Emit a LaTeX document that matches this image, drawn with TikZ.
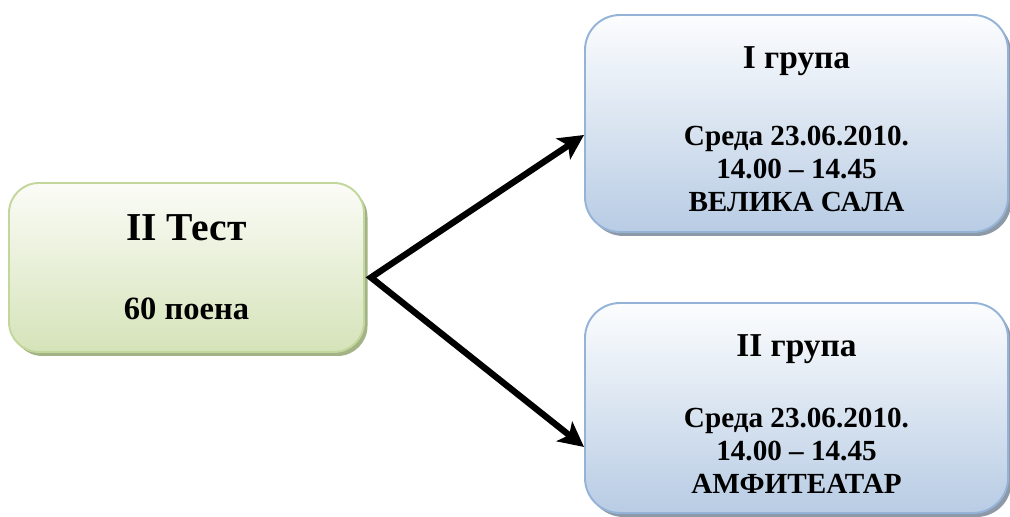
\documentclass[tikz,border=0pt]{standalone}
\usepackage{fontspec}
\setmainfont{Liberation Serif}
\usetikzlibrary{calc}
\usetikzlibrary{arrows.meta}
\usetikzlibrary{shadows}
\usepackage{xcolor}
\definecolor{testline}{HTML}{C3D69B}
\definecolor{testtop}{HTML}{FBFCF7}
\definecolor{testbot}{HTML}{D5E3B9}
\definecolor{testshadow}{HTML}{A3B386}
\definecolor{grpline}{HTML}{95B3D7}
\definecolor{grptop}{HTML}{FCFDFE}
\definecolor{grpbot}{HTML}{B8CCE4}
\definecolor{grpshadow}{HTML}{8E99A8}

\begin{document}
\begin{tikzpicture}[
  testbox/.style={draw=testline, line width=1.1pt, rounded corners=0.6cm,
    top color=testtop, bottom color=testbot, align=center,
    font=\fontsize{18.5}{21}\selectfont\bfseries,
    drop shadow={shadow xshift=0.07cm, shadow yshift=-0.08cm, fill=testshadow, opacity=1}},
  grpbox/.style={draw=grpline, line width=1.1pt, rounded corners=0.7cm,
    top color=grptop, bottom color=grpbot, align=center,
    minimum width=8.46cm, font=\fontsize{16.6}{18.8}\selectfont\bfseries,
    drop shadow={shadow xshift=0.07cm, shadow yshift=-0.08cm, fill=grpshadow, opacity=1}},
  arr/.style={line width=3.6pt, miter limit=10, {Stealth[length=5mm, width=5mm, inset=1.2mm]}-{Stealth[length=5mm, width=5mm, inset=1.2mm]}}
]
\useasboundingbox (0,0) rectangle (20.2,10.34);

\node[testbox, minimum width=7.1cm, minimum height=3.38cm] (test) at (3.73,4.99)
  {{\fontsize{22.5}{26}\selectfont II Тест}\\[24pt]60 поена};

\node[grpbox, minimum height=4.34cm] (grp1) at (15.93,7.87)
  {{\fontsize{19}{22}\selectfont\rule{0pt}{19pt}I група}\\[25pt]Среда 23.06.2010.\\14.00 – 14.45\\ВЕЛИКА САЛА};
\node[grpbox, minimum height=4.2cm] (grp2) at (15.93,2.18)
  {{\fontsize{19}{22}\selectfont\rule{0pt}{19pt}II група}\\[21.5pt]Среда 23.06.2010.\\14.00 – 14.45\\АМФИТЕАТАР};

\coordinate (split) at ($(test.east)+(0.12,-0.2)$);
\draw[arr] ($(grp1.west)+(0,-0.23)$) -- (split) -- ($(grp2.west)+(0,-0.78)$);
\end{tikzpicture}
\end{document}
